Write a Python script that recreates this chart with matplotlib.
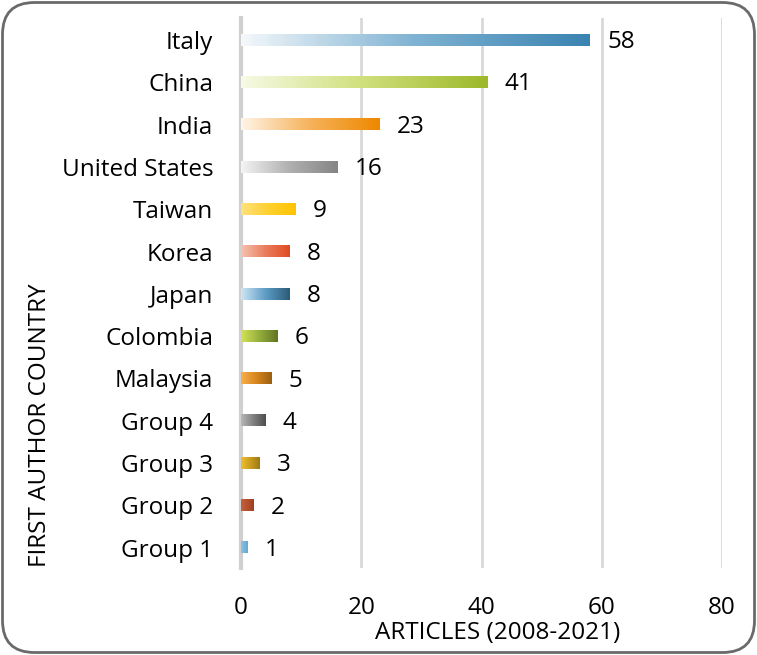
import numpy as np
import matplotlib
matplotlib.use("Agg")
import matplotlib.pyplot as plt
from matplotlib.colors import LinearSegmentedColormap
from matplotlib.patches import FancyBboxPatch

# data, top to bottom as shown
countries = ["Italy", "China", "India", "United States", "Taiwan", "Korea", "Japan",
             "Colombia", "Malaysia", "Group 4", "Group 3", "Group 2", "Group 1"]
articles = [58, 41, 23, 16, 9, 8, 8, 6, 5, 4, 3, 2, 1]

# gradient colours (left -> right) for each bar
bar_colors = [
    ["#f4f8fb", "#7fb2d2", "#3a83b1"],
    ["#f7fae6", "#cfdf7a", "#9db82a"],
    ["#fff5e8", "#f6b25a", "#ee8800"],
    ["#f4f4f4", "#b0b0b0", "#858585"],
    ["#ffe27a", "#ffd030", "#ffc300"],
    ["#f6c2b2", "#ea7d5c", "#df4b22"],
    ["#cfe6f4", "#5d9dc6", "#2b5a78"],
    ["#d4e357", "#94ae3c", "#5f7523"],
    ["#f9b04a", "#d6861e", "#9a5f10"],
    ["#b8b8b8", "#808080", "#4e4e4e"],
    ["#f0c030", "#c89c20", "#9c7a12"],
    ["#c9603a", "#b4502e", "#9c3f22"],
    ["#8cc4e4", "#76b4da", "#65a8d2"],
]

plt.rcParams['font.family'] = ['Open Sans', 'DejaVu Sans']
FS = 17.5

fig = plt.figure(figsize=(7.57, 6.55), dpi=100)

# rounded frame around the whole chart
bg = fig.add_axes([0, 0, 1, 1], zorder=-1)
bg.set_xlim(0, 757)
bg.set_ylim(0, 655)
bg.axis("off")
bg.add_patch(FancyBboxPatch((2.5, 2.5), 752, 650, boxstyle="round,pad=0,rounding_size=32",
                            facecolor="white", edgecolor="#6a6a6a", linewidth=2))

ax = fig.add_axes([0.3184, 0.1328, 0.6354, 0.8397])
ax.patch.set_alpha(0)

ypos = np.arange(len(countries))[::-1]
bars = ax.barh(ypos, articles, height=0.27, color="none", zorder=3)

grad = np.linspace(0, 1, 256).reshape(1, -1)
for bar, cols, val in zip(bars, bar_colors, articles):
    cmap = LinearSegmentedColormap.from_list("g", cols)
    x0, y0 = bar.get_x(), bar.get_y()
    ax.imshow(grad, cmap=cmap, aspect="auto", zorder=3,
              extent=[x0, x0 + bar.get_width(), y0, y0 + bar.get_height()])
    ax.text(val + 2.9, y0 + bar.get_height() / 2 - 0.05, str(val), va="center", ha="left",
            fontsize=FS, color="black")

ax.set_xlim(0, 80)
ax.set_ylim(-0.48, 12.52)
ax.set_xticks([0, 20, 40, 60, 80])
ax.set_yticks(ypos)
ax.set_yticklabels(countries)
ax.tick_params(axis="both", length=0, labelsize=FS)
ax.tick_params(axis="x", pad=20)
ax.tick_params(axis="y", pad=20)
for s in ["top", "right", "bottom"]:
    ax.spines[s].set_visible(False)
ax.spines["left"].set_color("#d0d0d0")
ax.spines["left"].set_linewidth(3)
ax.grid(axis="x", color="#d9d9d9", linewidth=2, zorder=0)
ax.set_axisbelow(True)

fig.text(0.658, 0.034, "ARTICLES (2008-2021)", ha="center", va="center", fontsize=FS)
fig.text(0.053, 0.351, "FIRST AUTHOR COUNTRY", ha="center", va="center",
         rotation=90, fontsize=FS)

fig.savefig("out.png", dpi=100)
